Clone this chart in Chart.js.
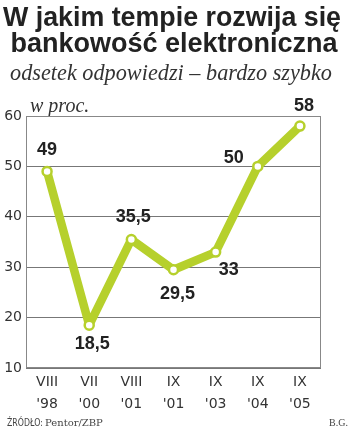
<!DOCTYPE html>
<html>
<head>
<meta charset="utf-8">
<script src="https://cdn.jsdelivr.net/npm/chart.js@4"></script>
<style>
  html, body { margin: 0; padding: 0; background: #fff; }
  #wrap { position: relative; width: 350px; height: 435px; }
</style>
</head>
<body>
<div id="wrap"><canvas id="chart" width="350" height="435"></canvas></div>
<script>
/* bankowość elektroniczna — odsetek odpowiedzi "bardzo szybko" */

const MONTHS = ["VIII", "VII", "VIII", "IX", "IX", "IX", "IX"];
const YEARS = ["'98", "'00", "'01", "'01", "'03", "'04", "'05"];
const VALUES = [49, 18.5, 35.5, 29.5, 33, 50, 58];
const VALUE_LABELS = ["49", "18,5", "35,5", "29,5", "33", "50", "58"];
const Y_TICKS = [10, 20, 30, 40, 50, 60];

// where each value label sits relative to its point (px) and how heavy it is
const LABEL_PLACE = [
  { dx: 0, dy: -21, w: "bold" },
  { dx: 3, dy: 19, w: "bold" },
  { dx: 2, dy: -22, w: "bold" },
  { dx: 4, dy: 24, w: "600" },
  { dx: 13, dy: 18, w: "600" },
  { dx: -24, dy: -8, w: "600" },
  { dx: 4, dy: -20, w: "bold" },
];

const GREEN = "#b6d02c";
const INK = "#222";

const decor = {
  id: "decor",
  beforeDraw(chart) {
    const c = chart.ctx;
    c.save();
    c.fillStyle = "#fff";
    c.fillRect(0, 0, chart.width, chart.height);
    c.fillStyle = INK;
    c.textAlign = "center";
    c.textBaseline = "alphabetic";
    c.font = "bold 27px 'Liberation Sans', Arial, sans-serif";
    c.fillText("W jakim tempie rozwija się", 172, 26, 338);
    c.fillText("bankowość elektroniczna", 174, 52, 330);
    c.font = "italic 23px 'Liberation Serif', 'DejaVu Serif', serif";
    c.fillStyle = "#333";
    c.fillText("odsetek odpowiedzi – bardzo szybko", 171, 80, 322);
    c.textAlign = "left";
    c.font = "italic 20px 'Liberation Serif', serif";
    c.fillText("w proc.", 30, 112, 61);
    c.font = "10px 'DejaVu Sans', sans-serif";
    c.fillStyle = "#444";
    c.fillText("ŹRÓDŁO:", 7, 426, 36);
    c.font = "10px 'DejaVu Serif', serif";
    c.fillText("Pentor/ZBP", 45, 426, 75);
    c.textAlign = "right";
    c.font = "10px 'Liberation Serif', serif";
    c.fillText("B.G.", 348, 426);
    c.restore();
  },
  afterDatasetsDraw(chart) {
    const c = chart.ctx;
    const a = chart.chartArea;
    c.save();
    c.strokeStyle = "#888";
    c.lineWidth = 1;
    c.strokeRect(a.left + 0.5, a.top + 0.5, a.right - a.left - 1, a.bottom - a.top - 1);
    c.fillStyle = INK;
    c.textAlign = "center";
    c.textBaseline = "middle";
    chart.getDatasetMeta(0).data.forEach((pt, i) => {
      const p = LABEL_PLACE[i];
      c.font = `${p.w} 18px 'Liberation Sans', Arial, sans-serif`;
      c.fillText(VALUE_LABELS[i], pt.x + p.dx, pt.y + p.dy);
    });
    c.restore();
  },
};

new Chart(document.getElementById("chart"), {
  type: "line",
  data: {
    labels: MONTHS.map((m, i) => [m, YEARS[i]]),
    datasets: [{
      data: VALUES,
      borderColor: GREEN,
      borderWidth: 8.5,
      borderJoinStyle: "round",
      borderCapStyle: "round",
      tension: 0,
      pointRadius: 4.5,
      pointBorderWidth: 2.5,
      pointBackgroundColor: "#fff",
      pointBorderColor: GREEN,
    }],
  },
  options: {
    responsive: false,
    animation: false,
    events: [],
    layout: { padding: { top: 116, right: 29, bottom: 22, left: 0 } },
    plugins: { legend: { display: false }, tooltip: { enabled: false } },
    scales: {
      x: {
        offset: true,
        grid: { display: false },
        border: { display: false },
        ticks: {
          color: "#333",
          font: { family: "'DejaVu Sans', sans-serif", size: 14, weight: "normal", lineHeight: 1.6 },
          padding: -5,
          maxRotation: 0,
          autoSkip: false,
        },
        afterFit: (s) => { s.height = 45; },
      },
      y: {
        min: Y_TICKS[0],
        max: Y_TICKS[Y_TICKS.length - 1],
        afterBuildTicks: (s) => { s.ticks = Y_TICKS.map((v) => ({ value: v })); },
        grid: { color: "#777", lineWidth: 1, drawTicks: false },
        border: { display: false },
        ticks: { color: "#333", font: { family: "'DejaVu Sans', sans-serif", size: 14 }, padding: 4 },
        afterFit: (s) => { s.width = 26; },
      },
    },
  },
  plugins: [decor],
});
</script>
</body>
</html>
